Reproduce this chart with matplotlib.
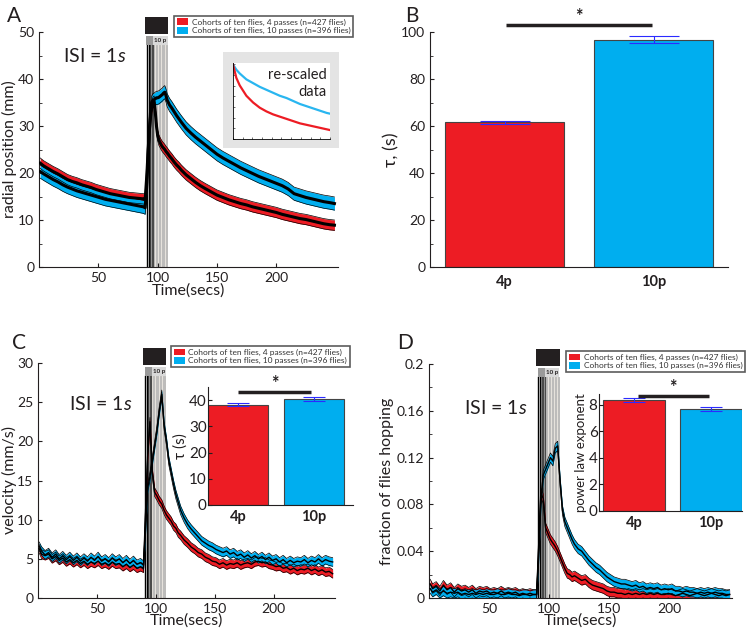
import matplotlib
matplotlib.use('Agg')
import matplotlib.pyplot as plt
from matplotlib.patches import Patch, Rectangle
from matplotlib.ticker import MultipleLocator
import matplotlib.transforms as mtransforms

plt.rcParams['font.family'] = ['Lato', 'DejaVu Sans']
plt.rcParams['mathtext.fontset'] = 'custom'
plt.rcParams['mathtext.it'] = 'Lato:italic'
plt.rcParams['mathtext.rm'] = 'Lato'

RED = '#ed1c24'
BLUE = '#00aeef'
TXT = '#231f20'

# ---------------- data ----------------
legend_labels = ['Cohorts of ten flies, 4 passes (n=427 flies)',
                 'Cohorts of ten flies, 10 passes (n=396 flies)']
bar_labels = ['4p', '10p']

# panel A: radial position
t_a = [1, 4, 8, 12, 16, 20, 24, 28, 32, 36, 40, 44, 48, 52, 56, 60, 64, 68, 72, 76, 80, 84, 88, 89.5,
       91, 92, 93, 94, 95, 96, 97, 98, 99, 100, 101, 102, 103, 104, 105, 106, 107, 108, 110, 112, 114,
       116, 118, 120, 124, 128, 132, 136, 140, 145, 150, 155, 160, 165, 170, 175, 180, 185, 190, 195,
       200, 205, 210, 215, 220, 225, 230, 235, 240, 245, 249]
a_red = [22.1, 21.5, 20.9, 20.3, 19.8, 19.2, 18.6, 18.2, 17.9, 17.5, 17.2, 16.9, 16.5, 16.2, 15.9, 15.6,
         15.4, 15.2, 15.0, 14.8, 14.7, 14.6, 14.5, 14.4,
         20, 25, 29, 32, 34, 35, 35.3, 33, 30, 28, 27, 26.5, 26, 25.6, 25.3, 25, 24.6, 24.3, 23.6, 23,
         22.3, 21.7, 21.2, 20.6, 19.6, 18.8, 18, 17.3, 16.7, 16.0, 15.3, 14.8, 14.3, 13.9, 13.5, 13.2,
         12.8, 12.5, 12.2, 11.9, 11.6, 11.2, 10.9, 10.6, 10.3, 10.1, 9.8, 9.5, 9.2, 9.0, 8.9]
a_blue = [20.3, 19.8, 19.2, 18.6, 18.1, 17.5, 17.0, 16.6, 16.2, 15.9, 15.6, 15.3, 15.0, 14.7, 14.4, 14.2,
          14.0, 13.8, 13.6, 13.4, 13.2, 13.0, 12.8, 12.6,
          18, 24, 29, 33, 35, 35.5, 35.6, 35.8, 36, 36, 36.1, 36.3, 36.5, 36.7, 37, 37.2, 36.5, 35.5,
          34.5, 33.8, 33, 32.2, 31.5, 30.8, 29.5, 28.5, 27.6, 26.8, 26, 25, 24, 23.2, 22.5, 21.8, 21.1,
          20.5, 19.9, 19.3, 18.8, 18.3, 17.8, 17.3, 16.6, 15.6, 15.2, 14.8, 14.5, 14.2, 13.9, 13.7, 13.5]
a_red_err = 1.1
a_blue_err = 1.4

# inset of A: re-scaled data
t_ins = [0, 5, 10, 20, 30, 40, 50, 60, 70, 80, 90, 100, 110, 120, 130, 140, 145]
ins_red = [1.0, 0.82, 0.72, 0.58, 0.49, 0.42, 0.37, 0.33, 0.30, 0.27, 0.24, 0.21, 0.19, 0.17, 0.15, 0.13, 0.12]
ins_blue = [1.0, 0.93, 0.88, 0.80, 0.75, 0.70, 0.66, 0.62, 0.58, 0.55, 0.51, 0.47, 0.44, 0.41, 0.38, 0.35, 0.34]

# panel B
b_vals = [61.5, 96.8]
b_errs = [0.8, 1.5]

# panels C and D share time points
t_cd = [1, 3, 6, 9, 12, 15, 18, 21, 24, 27, 30, 33, 36, 39, 42, 45, 48, 51, 54, 57, 60, 63, 66, 69, 72,
        75, 78, 81, 84, 87, 89.5, 91, 93, 95, 97, 99, 101, 103, 105, 107, 109, 111, 113, 115, 117, 119,
        121, 124, 127, 130, 133, 136, 139, 142, 145, 148, 151, 154, 157, 160, 163, 166, 169, 172, 175,
        178, 181, 184, 187, 190, 193, 196, 199, 202, 205, 208, 211, 214, 217, 220, 223, 226, 229, 232,
        235, 238, 241, 244, 247, 250]
c_red = [6.3, 5.6, 5.4, 5.6, 5.0, 5.3, 4.8, 5.1, 4.6, 4.9, 4.5, 4.8, 4.4, 4.7, 4.3, 4.6, 4.4, 4.7, 4.3,
         4.5, 4.2, 4.6, 4.3, 4.4, 4.0, 4.3, 3.9, 4.2, 3.8, 4.0, 3.8,
         10, 18, 22.5, 16, 13.5, 13, 12.4, 12, 11.2, 10.6, 10.2, 9.8, 9.2, 8.9, 8.3, 8.0, 7.4, 7.0, 6.5,
         6.2, 5.8, 5.6, 5.2, 5.0, 4.7, 4.6, 4.3, 4.5, 4.2, 4.4, 4.3, 4.5, 4.2, 4.4, 4.5, 4.3, 4.6, 4.7,
         4.5, 4.6, 4.3, 4.2, 4.0, 4.1, 3.8, 3.9, 3.6, 3.8, 3.5, 3.7, 3.6, 3.8, 3.5, 3.7, 3.4, 3.6, 3.3,
         3.4, 3.1]
c_blue = [6.6, 6.0, 5.5, 5.8, 5.2, 5.6, 5.0, 5.4, 4.9, 5.3, 4.8, 5.2, 4.7, 5.1, 4.7, 5.2, 4.8, 5.3, 4.7,
          5.0, 4.6, 5.1, 4.7, 5.0, 4.5, 4.9, 4.4, 4.8, 4.3, 4.5, 4.2,
          8, 14, 15.5, 17.5, 19.5, 21.5, 24, 26, 22, 20, 17.5, 16, 14.5, 13.2, 12.2, 11.2, 10.2, 9.4,
          8.8, 8.3, 7.8, 7.3, 7.0, 6.7, 6.5, 6.2, 6.0, 5.8, 6.0, 5.6, 5.8, 5.4, 5.6, 5.2, 5.5, 5.1, 5.4,
          5.0, 5.3, 4.9, 5.2, 4.8, 5.0, 4.6, 4.9, 4.5, 4.8, 4.5, 4.7, 4.6, 4.9, 4.5, 4.8, 4.6, 5.0, 4.6,
          4.9, 4.7, 4.6]
c_err = 0.55
c_vals = [38.3, 40.5]
c_errs = [0.7, 0.8]

d_red = [0.012, 0.008, 0.010, 0.006, 0.011, 0.007, 0.009, 0.005, 0.008, 0.006, 0.007, 0.005, 0.007,
         0.004, 0.006, 0.005, 0.006, 0.004, 0.005, 0.004, 0.006, 0.004, 0.005, 0.004, 0.005, 0.003,
         0.004, 0.003, 0.004, 0.003, 0.003,
         0.04, 0.09, 0.085, 0.06, 0.055, 0.05, 0.047, 0.044, 0.04, 0.035, 0.03, 0.025, 0.021, 0.02,
         0.018, 0.019, 0.017, 0.015, 0.016, 0.013, 0.011, 0.010, 0.009, 0.008, 0.006, 0.005, 0.005,
         0.004, 0.004, 0.003, 0.004, 0.003, 0.004, 0.003, 0.004, 0.003, 0.004, 0.003, 0.004, 0.003,
         0.003, 0.004, 0.003, 0.002, 0.003, 0.004, 0.003, 0.002, 0.003, 0.004, 0.003, 0.002, 0.003,
         0.004, 0.003, 0.002, 0.003, 0.002, 0.003]
d_blue = [0.008, 0.005, 0.007, 0.004, 0.006, 0.004, 0.005, 0.004, 0.005, 0.003, 0.004, 0.003, 0.004,
          0.003, 0.004, 0.003, 0.004, 0.003, 0.003, 0.004, 0.003, 0.003, 0.004, 0.003, 0.003, 0.002,
          0.003, 0.003, 0.002, 0.003, 0.003,
          0.03, 0.08, 0.105, 0.11, 0.115, 0.12, 0.117, 0.128, 0.13, 0.1, 0.075, 0.065, 0.06, 0.055,
          0.05, 0.046, 0.042, 0.04, 0.036, 0.032, 0.029, 0.026, 0.024, 0.021, 0.018, 0.016, 0.014,
          0.013, 0.012, 0.012, 0.011, 0.010, 0.011, 0.009, 0.010, 0.008, 0.009, 0.008, 0.009, 0.007,
          0.008, 0.007, 0.008, 0.006, 0.006, 0.005, 0.006, 0.005, 0.005, 0.004, 0.005, 0.004, 0.005,
          0.004, 0.005, 0.004, 0.004, 0.003, 0.003]
d_err = 0.004
d_vals = [8.35, 7.7]
d_errs = [0.15, 0.15]

# stimulus: pass times (s)
stim_4p = [91, 92.3]
stim_4p_dim = [93.6, 94.9, 96.1]
stim_10p = [97.3, 98.5, 99.7, 100.9, 102.1, 103.3, 104.5, 105.7, 106.9, 108.1]

# ---------------- drawing ----------------
fig = plt.figure(figsize=(7.5, 6.28), dpi=100)


def style(ax):
    for s in ['top', 'right']:
        ax.spines[s].set_visible(False)
    for s in ['left', 'bottom']:
        ax.spines[s].set_color(TXT)
        ax.spines[s].set_linewidth(0.8)
    ax.tick_params(direction='in', colors=TXT, labelsize=10, length=3)
    ax.tick_params(which='minor', direction='in', length=2, colors=TXT)


def stimulus(ax):
    tr = mtransforms.blended_transform_factory(ax.transData, ax.transAxes)
    ax.add_patch(Rectangle((96.7, 0), 12, 0.945, transform=tr, color='#e6e2dc', lw=0, zorder=0))
    ax.add_patch(Rectangle((92.5, 0), 4.2, 0.945, transform=tr, color='#9a9a9a', lw=0, zorder=0))
    for x in stim_10p:
        ax.plot([x, x], [0, 0.945], transform=tr, color='#b5b5b5', lw=0.6, zorder=0)
    for x in stim_4p_dim:
        ax.plot([x, x], [0, 0.945], transform=tr, color='#4a4a4a', lw=0.8, zorder=1)
    for x in stim_4p:
        ax.plot([x, x], [0, 0.945], transform=tr, color='black', lw=1.0, zorder=1)
    ax.add_patch(Rectangle((89, 0.99), 20, 0.075, transform=tr, color=TXT, lw=0, clip_on=False))
    ax.add_patch(Rectangle((90.5, 0.945), 6, 0.04, transform=tr, color='#9a9a9a', lw=0, clip_on=False))
    ax.add_patch(Rectangle((96.5, 0.945), 12, 0.04, transform=tr, color='#d9d9d9', lw=0, clip_on=False))
    ax.text(102.5, 0.965, '10 p', transform=tr, fontsize=4.5, fontweight='bold', ha='center',
            va='center', color=TXT)


def band(ax, t, m, e, color, lw_mean):
    lo = [v - e for v in m]
    hi = [v + e for v in m]
    ax.fill_between(t, lo, hi, color=color, lw=0, zorder=2)
    ax.plot(t, lo, color='black', lw=0.5, zorder=3)
    ax.plot(t, hi, color='black', lw=0.5, zorder=3)
    ax.plot(t, m, color='black', lw=lw_mean, zorder=4)


def legend(ax, x, y):
    h = [Patch(facecolor=RED, edgecolor='none'), Patch(facecolor=BLUE, edgecolor='none')]
    lg = ax.legend(h, legend_labels, loc='upper left', bbox_to_anchor=(x / 750, 1 - y / 628),
                   bbox_transform=fig.transFigure, fontsize=6.0, frameon=True, fancybox=False,
                   borderpad=0.3, handlelength=1.4, handleheight=0.9, handletextpad=0.4,
                   labelspacing=0.12, borderaxespad=0)
    lg.get_frame().set_edgecolor('#333333')
    lg.get_frame().set_linewidth(1.2)
    for t in lg.get_texts():
        t.set_color('#333333')


def bars(ax, vals, errs, ylim, ylabel, ylfs, sig_y, sig_x, xlim, tickfs, capsize):
    ax.bar([1, 2], vals, width=0.8, color=[RED, BLUE], edgecolor='#444444', linewidth=0.8)
    ax.errorbar([1, 2], vals, yerr=errs, fmt='none', ecolor='#2b2bff', elinewidth=0.8,
                capsize=capsize, capthick=0.8)
    ax.set_ylim(*ylim)
    ax.set_xlim(*xlim)
    ax.set_xticks([1, 2])
    ax.set_xticklabels(bar_labels, fontweight='bold', fontsize=tickfs)
    ax.tick_params(axis='x', length=0)
    ax.set_ylabel(ylabel, fontsize=ylfs, color=TXT, labelpad=1)
    ax.plot(sig_x, [sig_y, sig_y], color=TXT, lw=2.5, clip_on=False, solid_capstyle='butt')
    ax.text(sum(sig_x) / 2, sig_y, '*', ha='center', va='bottom', fontsize=13, fontweight='bold',
            color=TXT, clip_on=False)


# ---- A ----
axA = fig.add_axes([39 / 750, 1 - 267 / 628, 299 / 750, 235 / 628])
style(axA)
stimulus(axA)
band(axA, t_a, a_red, a_red_err, RED, 2.2)
band(axA, t_a, a_blue, a_blue_err, BLUE, 2.2)
axA.set_xlim(0, 252)
axA.set_ylim(0, 50)
axA.yaxis.set_major_locator(MultipleLocator(10))
axA.yaxis.set_minor_locator(MultipleLocator(5))
axA.set_xticks([50, 100, 150, 200])
axA.set_ylabel('radial position (mm)', fontsize=11.5, color=TXT, labelpad=1)
axA.set_xlabel('Time(secs)', fontsize=11.5, color=TXT, labelpad=0)
axA.text(20.5, 45, r'ISI = 1$\mathit{s}$', fontsize=14, va='center', color=TXT)
legend(axA, 174, 16)

# inset A
box = fig.add_axes([223 / 750, 1 - 148 / 628, 116 / 750, 96 / 628])
box.set_facecolor('#e4e4e4')
box.set_xticks([])
box.set_yticks([])
for s in box.spines.values():
    s.set_visible(False)
ins = fig.add_axes([233 / 750, 1 - 139 / 628, 97 / 750, 76 / 628])
ins.plot(t_ins, ins_blue, color='#29b6f0', lw=1.6)
ins.plot(t_ins, ins_red, color=RED, lw=1.6)
ins.set_xlim(0, 145)
ins.set_ylim(0, 1.02)
for s in ['top', 'right']:
    ins.spines[s].set_visible(False)
for s in ['left', 'bottom']:
    ins.spines[s].set_linewidth(0.6)
ins.xaxis.set_major_locator(MultipleLocator(14.5))
ins.yaxis.set_major_locator(MultipleLocator(0.143))
ins.tick_params(direction='in', length=1.5, width=0.4, labelleft=False, labelbottom=False)
ins.text(0.97, 0.93, 're-scaled\ndata', transform=ins.transAxes, ha='right', va='top',
         fontsize=10.5, color=TXT, linespacing=1.25)

# ---- B ----
axB = fig.add_axes([430 / 750, 1 - 267 / 628, 298 / 750, 235 / 628])
style(axB)
bars(axB, b_vals, b_errs, (0, 100), 'τ, (s)', 13, 103, [1.01, 1.99], (0.5, 2.5), 10.5, 18)
axB.yaxis.set_major_locator(MultipleLocator(20))
axB.yaxis.set_minor_locator(MultipleLocator(10))
axB.tick_params(axis='x', pad=6)

# ---- C ----
axC = fig.add_axes([38 / 750, 1 - 598 / 628, 297 / 750, 235 / 628])
style(axC)
stimulus(axC)
band(axC, t_cd, c_red, c_err, RED, 1.0)
band(axC, t_cd, c_blue, c_err, BLUE, 1.0)
axC.set_xlim(0, 252)
axC.set_ylim(0, 30)
axC.yaxis.set_major_locator(MultipleLocator(5))
axC.set_xticks([50, 100, 150, 200])
axC.set_ylabel('velocity (mm/s)', fontsize=11.5, color=TXT, labelpad=0)
axC.set_xlabel('Time(secs)', fontsize=11.5, color=TXT, labelpad=-1)
axC.text(26, 24.8, r'ISI = 1$\mathit{s}$', fontsize=14, va='center', color=TXT)
legend(axC, 171, 346)

insC = fig.add_axes([208 / 750, 1 - 505 / 628, 145 / 750, 118 / 628])
style(insC)
bars(insC, c_vals, c_errs, (0, 45), 'τ (s)', 11, 43, [1.0, 1.97], (0.6, 2.52), 10.5, 8)
insC.set_yticks([0, 10, 20, 30, 40])
insC.tick_params(axis='y', labelsize=11, pad=1)

# ---- D ----
axD = fig.add_axes([429 / 750, 1 - 598 / 628, 303 / 750, 234 / 628])
style(axD)
stimulus(axD)
band(axD, t_cd, d_red, d_err, RED, 1.0)
band(axD, t_cd, d_blue, d_err, BLUE, 1.0)
axD.set_xlim(0, 252)
axD.set_ylim(0, 0.2)
axD.set_yticks([0, 0.04, 0.08, 0.12, 0.16, 0.2])
axD.set_yticklabels(['0', '0.04', '0.08', '0.12', '0.16', '0.2'])
axD.yaxis.set_minor_locator(MultipleLocator(0.02))
axD.set_xticks([50, 100, 150, 200])
axD.set_ylabel('fraction of flies hopping', fontsize=11.5, color=TXT, labelpad=2)
axD.set_xlabel('Time(secs)', fontsize=11.5, color=TXT, labelpad=-1)
axD.text(29, 0.162, r'ISI = 1$\mathit{s}$', fontsize=14, va='center', color=TXT)
legend(axD, 566, 351)

insD = fig.add_axes([599 / 750, 1 - 511 / 628, 143 / 750, 117 / 628])
style(insD)
bars(insD, d_vals, d_errs, (0, 8.8), 'power law exponent', 9.5, 8.65, [1.05, 1.97], (0.55, 2.4), 10.5, 8)
insD.set_yticks([0, 2, 4, 6, 8])
insD.tick_params(axis='y', labelsize=11, pad=1)

# panel letters
for x, y, s in [(7, 6, 'A'), (405, 6, 'B'), (12, 333, 'C'), (397, 333, 'D')]:
    fig.text(x / 750, 1 - y / 628, s, fontsize=15, va='top', ha='left', color=TXT)

fig.savefig('out.png', dpi=100)
